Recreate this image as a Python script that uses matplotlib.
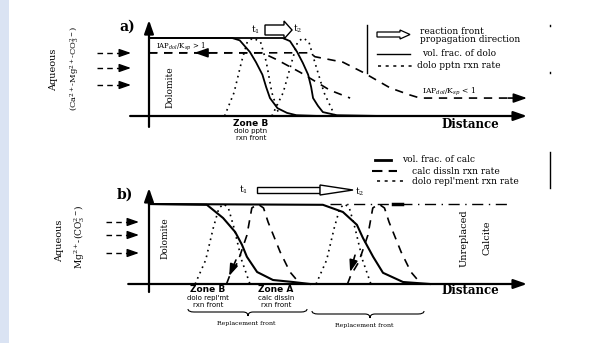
import matplotlib.pyplot as plt
from matplotlib.patches import Polygon, Rectangle, PathPatch
from matplotlib.path import Path

plt.rcParams['font.family'] = ['DejaVu Serif']
plt.rcParams['mathtext.fontset'] = 'dejavuserif'

# ---- panel a) : distance (0-100) vs normalised value (0-1)
a_dist_dolo_t1 = [0, 22, 24, 26.7, 28.3, 30, 31, 32, 34, 36.5, 39, 45]
a_dolo_t1 = [1, 1, 0.97, 0.82, 0.69, 0.53, 0.37, 0.23, 0.10, 0.04, 0.01, 0]
a_dist_dolo_t2 = [0, 35.4, 37.3, 39.2, 40.7, 42.1, 42.9, 43.4, 44.7, 46, 49.7, 61.6]
a_dolo_t2 = [1, 1, 0.96, 0.82, 0.68, 0.53, 0.37, 0.23, 0.13, 0.05, 0.01, 0]
a_dist_pptn_t1 = [20, 22.5, 24.5, 26, 27.5, 29.5, 31, 32.5, 34.5]
a_dist_pptn_t2 = [32.5, 35.5, 37.8, 39.3, 40.8, 42.3, 43.8, 46.3, 49.2]
a_pptn = [0, 0.3, 0.7, 0.95, 1, 0.95, 0.7, 0.3, 0]
a_dist_iap_t1 = [0, 30, 33.9, 40, 47.9, 53.2]
a_iap_t1 = [0.81, 0.81, 0.72, 0.56, 0.33, 0.23]
a_dist_iap_t2 = [0, 42.6, 43.9, 51.3, 56.6, 63.8, 69, 71.7, 96]
a_iap_t2 = [0.81, 0.81, 0.76, 0.69, 0.56, 0.36, 0.27, 0.23, 0.23]

# ---- panel b)
b_dist_calc_t1 = [0, 15.3, 19.6, 22.8, 24.6, 25.9, 28.6, 32.8, 38.1, 42.6]
b_calc_t1 = [1, 0.99, 0.825, 0.65, 0.49, 0.34, 0.15, 0.05, 0.025, 0]
b_dist_calc_t2 = [0, 46, 51.3, 55, 56.6, 59.3, 61.9, 67.2, 74.3]
b_calc_t2 = [1, 0.99, 0.9, 0.74, 0.575, 0.34, 0.14, 0.025, 0]
b_dist_repl_t1 = [12.2, 15, 17, 18.5, 19.8, 21, 22.5, 24.5, 26.7]
b_dist_repl_t2 = [44.2, 47, 49, 50.5, 51.8, 53, 54.5, 56.5, 58.7]
b_repl = [0, 0.3, 0.7, 0.95, 1, 0.95, 0.7, 0.3, 0]
b_dist_diss_t1 = [20.5, 21.4, 23.5, 25.9, 27.2, 28.8, 30.3, 31.5, 34.7, 37.3, 40]
b_dist_diss_t2 = [52.5, 53.4, 55.5, 57.9, 59.2, 60.8, 62.3, 63.5, 66.7, 69.3, 72]
b_diss = [0, 0.11, 0.275, 0.61, 0.95, 1, 0.95, 0.775, 0.4, 0.15, 0]

W, H = 605, 343
fig = plt.figure(figsize=(W / 100, H / 100), dpi=100)

# overlay in pixel units for labels and decorations
ov = fig.add_axes([0, 0, 1, 1])
ov.set_xlim(0, W)
ov.set_ylim(H, 0)
ov.axis('off')
ov.add_patch(Rectangle((0, 0), 9, H, color='#dae3f3', lw=0))


def panel(ox, oy, sx, sy, xlim, ylim):
    l = ox + xlim[0] * sx
    r = ox + xlim[1] * sx
    b = oy - ylim[0] * sy
    t = oy - ylim[1] * sy
    ax = fig.add_axes([l / W, 1 - b / H, (r - l) / W, (b - t) / H])
    ax.set_xlim(xlim)
    ax.set_ylim(ylim)
    ax.axis('off')
    return ax


head = dict(arrowstyle='-|>,head_length=1.0,head_width=0.35', color='k',
            lw=1.6, mutation_scale=8, shrinkA=0, shrinkB=0)
dots = (0, (1, 2.5))
dash = (0, (5, 4))

# ---------------- panel a
axA = panel(149, 116, 3.78, 78, (-6, 102), (-0.16, 1.26))
axA.annotate('', xy=(100, 0), xytext=(-5, 0), arrowprops=head)
axA.annotate('', xy=(0, 1.23), xytext=(0, -0.14), arrowprops=head)
axA.plot(a_dist_dolo_t1, a_dolo_t1, color='k', lw=1.3)
axA.plot(a_dist_dolo_t2, a_dolo_t2, color='k', lw=1.3)
axA.plot(a_dist_pptn_t1, a_pptn, color='k', lw=1.2, ls=dots)
axA.plot(a_dist_pptn_t2, a_pptn, color='k', lw=1.2, ls=dots)
axA.plot(a_dist_iap_t1, a_iap_t1, color='k', lw=1.2, ls=dash)
axA.plot(a_dist_iap_t2, a_iap_t2, color='k', lw=1.2, ls=dash)
axA.annotate('', xy=(12, 0.81), xytext=(16, 0.81),
             arrowprops=dict(head, lw=1.2))
axA.annotate('', xy=(100, 0.23), xytext=(95, 0.23),
             arrowprops=dict(head, lw=1.2))

# ---------------- panel b
axB = panel(149, 284, 3.78, 80, (-6, 102), (-0.12, 1.22))
axB.annotate('', xy=(100, 0), xytext=(-5.5, 0), arrowprops=head)
axB.annotate('', xy=(0, 1.2), xytext=(0, -0.1), arrowprops=head)
axB.plot(b_dist_calc_t1, b_calc_t1, color='k', lw=1.5)
axB.plot(b_dist_calc_t2, b_calc_t2, color='k', lw=1.5)
axB.plot(b_dist_repl_t1, b_repl, color='k', lw=1.2, ls=dots)
axB.plot(b_dist_repl_t2, b_repl, color='k', lw=1.2, ls=dots)
axB.plot(b_dist_diss_t1, b_diss, color='k', lw=1.2, ls=dash)
axB.plot(b_dist_diss_t2, b_diss, color='k', lw=1.2, ls=dash)
axB.plot([48, 95], [1, 1], color='k', lw=1.0, ls=(0, (8, 4, 1, 4)))
axB.plot([64.5, 67], [1, 1], color='k', lw=2.5)
axB.annotate('', xy=(21.2, 0.1), xytext=(23, 0.3),
             arrowprops=dict(head, lw=1.2, mutation_scale=7))
axB.annotate('', xy=(53.2, 0.15), xytext=(54.5, 0.36),
             arrowprops=dict(head, lw=1.2, mutation_scale=7))

# ---------------- labels, pixel coords
ov.text(127, 27, 'a)', fontsize=10, ha='center', va='center', weight='bold')
ov.text(125, 195, 'b)', fontsize=10, ha='center', va='center', weight='bold')

ov.text(54, 70, 'Aqueous', rotation=90, fontsize=7, ha='center', va='center')
ov.text(75, 68, '(Ca$^{2+}$-Mg$^{2+}$-CO$_3^{2-}$)', rotation=90, fontsize=6,
        ha='center', va='center')
ov.text(60, 241, 'Aqueous', rotation=90, fontsize=7, ha='center', va='center')
ov.text(80, 237, 'Mg$^{2+}$-(CO$_3^{2-}$)', rotation=90, fontsize=6.5,
        ha='center', va='center')

for y0 in [53, 68, 85]:
    ov.plot([97, 124], [y0, y0], color='k', lw=1, ls=(0, (4, 3)))
    ov.annotate('', xy=(131, y0), xytext=(123, y0),
                arrowprops=dict(head, lw=1, mutation_scale=7))
for y0 in [222, 235, 253]:
    ov.plot([106, 131], [y0, y0], color='k', lw=1, ls=(0, (4, 3)))
    ov.annotate('', xy=(139, y0), xytext=(130, y0),
                arrowprops=dict(head, lw=1, mutation_scale=7))

ov.text(170, 87, 'Dolomite', rotation=90, fontsize=6.5, ha='center', va='center')
ov.text(165, 238, 'Dolomite', rotation=90, fontsize=6.5, ha='center', va='center')
ov.text(464, 238, 'Unreplaced', rotation=90, fontsize=7, ha='center', va='center')
ov.text(487, 238, 'Calcite', rotation=90, fontsize=7, ha='center', va='center')

ov.text(156, 46, 'IAP$_{dol}$/K$_{sp}$ > 1', fontsize=5, va='center')
ov.text(422, 91, 'IAP$_{dol}$/K$_{sp}$ < 1', fontsize=5.5, va='center')

ov.text(470, 125, 'Distance', fontsize=8.5, ha='center', va='center', weight='bold')
ov.text(470, 291, 'Distance', fontsize=8.5, ha='center', va='center', weight='bold')

sans = ['DejaVu Sans']
ov.text(251, 123, 'Zone B', fontsize=6.5, ha='center', va='center', family=sans, weight='bold')
ov.text(251, 131, 'dolo pptn', fontsize=5, ha='center', va='center', family=sans)
ov.text(251, 138, 'rxn front', fontsize=5, ha='center', va='center', family=sans)
ov.text(208, 290, 'Zone B', fontsize=6.5, ha='center', va='center', family=sans, weight='bold')
ov.text(208, 298, "dolo repl'mt", fontsize=5, ha='center', va='center', family=sans)
ov.text(208, 305, 'rxn front', fontsize=5, ha='center', va='center', family=sans)
ov.text(276, 290, 'Zone A', fontsize=6.5, ha='center', va='center', family=sans, weight='bold')
ov.text(276, 298, 'calc dissln', fontsize=5, ha='center', va='center', family=sans)
ov.text(276, 305, 'rxn front', fontsize=5, ha='center', va='center', family=sans)


def brace(x0, x1, xm, y):
    verts = [(x0, y - 3), (x0, y), (x0 + 6, y), (xm - 5, y), (xm, y), (xm, y + 4),
             (xm, y), (xm + 5, y), (x1 - 6, y), (x1, y), (x1, y - 3)]
    codes = [Path.MOVETO, Path.CURVE3, Path.CURVE3, Path.LINETO, Path.CURVE3,
             Path.CURVE3, Path.CURVE3, Path.CURVE3, Path.LINETO, Path.CURVE3,
             Path.CURVE3]
    ov.add_patch(PathPatch(Path(verts, codes), fc='none', ec='k', lw=0.8))


brace(188, 307, 248, 312)
brace(312, 424, 370, 314)
ov.text(246, 323, 'Replacement front', fontsize=4.5, ha='center', va='center')
ov.text(364, 325, 'Replacement front', fontsize=4.5, ha='center', va='center')

# time arrows
ov.text(255, 30, 't$_1$', fontsize=6.5, ha='center', va='center')
ov.text(298, 29, 't$_2$', fontsize=6.5, ha='center', va='center')
ov.add_patch(Polygon([(265, 25), (284, 25), (284, 21), (292, 30), (284, 39),
                      (284, 35), (265, 35)], fc='white', ec='k', lw=1))
ov.text(243, 190, 't$_1$', fontsize=6.5, ha='center', va='center')
ov.text(360, 192, 't$_2$', fontsize=6.5, ha='center', va='center')
ov.add_patch(Rectangle((257, 187), 63, 6, fc='white', ec='k', lw=1))
ov.add_patch(Polygon([(320, 185), (353, 190), (320, 195)], fc='white', ec='k', lw=1))

# legend a
ov.plot([367, 367], [25, 73], color='k', lw=1)
ov.plot([550, 550], [25, 25.8], color='k', lw=1)
ov.plot([550, 550], [72.2, 73], color='k', lw=1)
ov.add_patch(Polygon([(377, 32), (400, 32), (400, 30), (410, 34.5), (400, 39),
                      (400, 37), (377, 37)], fc='white', ec='k', lw=0.9))
ov.text(420, 31, 'reaction front', fontsize=6.5, va='center')
ov.text(420, 40, 'propagation direction', fontsize=6.5, va='center')
ov.plot([377, 410], [54, 54], color='k', lw=1)
ov.text(422, 54, 'vol. frac. of dolo', fontsize=6.5, va='center')
ov.plot([378, 413], [66, 66], color='k', lw=1.1, ls=(0, (2, 3)))
ov.text(417, 66, 'dolo pptn rxn rate', fontsize=6.5, va='center')

# legend b
ov.plot([375, 391], [160, 160], color='k', lw=2)
ov.text(402, 160, 'vol. frac. of calc', fontsize=6.5, va='center')
ov.plot([372, 397], [171, 171], color='k', lw=1.5, ls=(0, (5, 3)))
ov.text(412, 171, 'calc dissln rxn rate', fontsize=6.5, va='center')
ov.plot([377, 403], [181, 181], color='k', lw=1.1, ls=(0, (2, 3)))
ov.text(412, 181, "dolo repl'ment rxn rate", fontsize=6.5, va='center')
ov.plot([550, 550], [152, 188], color='k', lw=1)

fig.savefig('out.png', dpi=100)
